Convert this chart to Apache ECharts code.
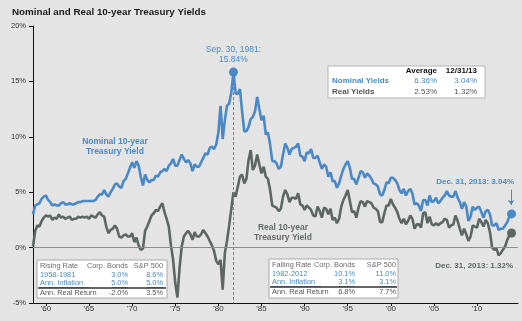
<!DOCTYPE html>
<html>
<head>
<meta charset="utf-8">
<script src="https://cdn.jsdelivr.net/npm/echarts@6/dist/echarts.min.js"></script>
<style>
  html, body { margin: 0; padding: 0; background: #e4e4e4; }
  #chart { width: 522px; height: 321px; }
</style>
</head>
<body>
<div id="chart"></div>
<script>
// Quarter-end observations, first one at end of June 1958, one every quarter after that.
const firstQuarter = 1958.5;
const quarterStep = 0.25;

// Nominal 10-year Treasury yield, % (one row per year)
const nominalYield = [
  3.0, 3.8, 3.9,
  4.0, 4.4, 4.6, 4.7,
  4.3, 4.1, 3.8, 3.9,
  3.8, 3.8, 4.0, 4.1,
  3.9, 3.9, 4.0, 3.9,
  3.9, 4.0, 4.1, 4.1,
  4.2, 4.2, 4.2, 4.2,
  4.2, 4.2, 4.3, 4.6,
  4.8, 4.8, 5.2, 4.8,
  4.6, 5.0, 5.3, 5.7,
  5.8, 5.5, 5.4, 6.0,
  6.2, 6.7, 7.2, 7.7,
  7.2, 7.8, 7.4, 6.4,
  5.6, 6.6, 6.1, 5.9,
  6.1, 6.1, 6.5, 6.4,
  6.8, 6.9, 7.1, 6.9,
  7.4, 7.6, 8.0, 7.4,
  7.4, 7.9, 8.4, 8.0,
  7.7, 7.9, 7.6, 6.9,
  7.5, 7.3, 7.3, 7.7,
  8.1, 8.5, 8.4, 9.0,
  9.1, 8.9, 9.3, 10.4,
  12.8, 9.8, 11.5, 12.8,
  13.0, 14.0, 15.84, 13.9,
  13.9, 14.3, 12.3, 10.5,
  10.5, 10.9, 11.6, 11.8,
  12.3, 13.6, 12.5, 11.5,
  11.9, 10.2, 10.4, 9.3,
  7.8, 7.8, 7.6, 7.1,
  7.3, 8.4, 9.4, 9.0,
  8.4, 8.9, 9.0, 9.1,
  9.4, 8.3, 8.2, 7.8,
  8.6, 8.5, 8.9, 8.1,
  8.1, 8.3, 7.7, 7.1,
  7.5, 7.3, 6.4, 6.8,
  6.0, 6.0, 5.4, 5.8,
  6.5, 7.1, 7.5, 7.8,
  7.2, 6.2, 6.2, 5.7,
  6.3, 6.9, 6.8, 6.3,
  6.7, 6.5, 6.2, 5.8,
  5.7, 5.5, 4.8, 4.7,
  5.2, 5.9, 5.8, 6.3,
  6.3, 6.1, 5.8, 5.2,
  4.9, 5.3, 4.7, 5.1,
  5.3, 4.9, 3.9, 4.0,
  3.8, 3.3, 4.3, 4.3,
  3.8, 4.7, 4.1, 4.2,
  4.5, 4.0, 4.2, 4.5,
  4.7, 5.1, 4.7, 4.6,
  4.6, 5.1, 4.5, 4.1,
  3.5, 4.1, 3.7, 2.4,
  2.8, 3.7, 3.4, 3.6,
  3.7, 3.2, 2.7, 3.3,
  3.4, 3.0, 2.0, 2.0,
  2.2, 1.6, 1.7, 1.7,
  2.0, 2.3, 2.8, 3.04
];

// Real 10-year Treasury yield, % (one row per year)
const realYield = [
  0.1, 1.5, 2.0,
  1.9, 2.4, 2.7, 2.9,
  2.8, 2.9, 2.5, 2.7,
  2.6, 3.0, 2.7, 2.8,
  2.6, 2.7, 2.8, 2.5,
  2.6, 2.6, 2.8, 2.7,
  2.8, 2.7, 2.8, 2.6,
  2.9, 2.8, 2.7, 3.0,
  3.2, 2.9, 2.8, 1.9,
  1.3, 1.6, 1.7, 2.0,
  1.7, 1.0, 0.9, 1.1,
  1.2, 1.0, 1.0, 1.3,
  0.5, 0.9, 0.2, -0.2,
  -0.1, 1.5, 1.9, 2.4,
  2.9, 3.1, 3.4, 3.3,
  3.7, 4.0, 3.2, 2.6,
  1.9, 0.2, -1.1, -3.2,
  -4.5, -1.8, 0.1, 1.0,
  1.3, 1.5, 1.2, 0.7,
  1.4, 1.0, 1.0, 1.2,
  1.6, 1.3, 1.0, 0.6,
  0.2, -0.3, -1.2, -1.5,
  -1.1, -3.8, -0.5, 0.6,
  2.0, 3.5, 5.0, 4.6,
  5.5, 6.4, 6.6, 5.8,
  6.2, 7.9, 8.8, 7.0,
  7.4, 8.4, 7.5, 6.7,
  7.3, 6.4, 6.2, 5.2,
  3.8, 3.7, 3.6, 3.3,
  3.5, 4.6, 5.2, 4.8,
  4.1, 4.5, 4.5, 4.4,
  4.9, 3.9, 3.8, 3.4,
  3.8, 3.6, 3.4, 2.9,
  2.8, 3.7, 3.3, 2.7,
  3.6, 3.5, 3.0, 3.5,
  2.5, 2.7, 2.2, 2.6,
  3.7, 4.3, 4.7, 5.2,
  4.2, 3.2, 3.3, 2.7,
  3.6, 4.2, 4.1, 3.7,
  4.2, 4.1, 4.0, 3.6,
  3.5, 3.3, 2.3, 2.3,
  3.1, 3.8, 3.8, 4.4,
  3.9, 3.6, 3.2, 2.6,
  2.2, 2.6, 2.1, 2.4,
  2.9, 2.6, 1.7, 2.1,
  2.1, 1.8, 3.1, 3.2,
  2.2, 2.8, 2.1, 2.0,
  2.2, 2.0, 2.2, 2.3,
  2.6, 2.5, 1.8, 2.0,
  2.1, 2.9, 2.4, 1.7,
  1.1, 1.7, 1.2, 0.6,
  1.0, 2.0, 1.9, 1.8,
  2.6, 2.3, 1.9, 2.5,
  2.2, 1.4, 0.0, -0.2,
  -0.1, -0.7, -0.5, -0.2,
  0.1, 0.7, 1.1, 1.32
];

// Axis ticks and labels
const yearTicks = [1960, 1965, 1970, 1975, 1980, 1985, 1990, 1995, 2000, 2005, 2010];
const yTicks = [-5, 0, 5, 10, 15, 20];

// Peak of the nominal yield
const peakDate = 1981.75;
const peakLabel = 'Sep. 30, 1981:';
const lastLabel = 'Dec. 31, 2013:';

// Series captions
const nominalCaption = ['Nominal 10-year', 'Treasury Yield'];
const realCaption = ['Real 10-year', 'Treasury Yield'];

// Text tables
const summaryHeader = ['Average', '12/31/13'];
const summaryRows = [
  ['Nominal Yields', '6.36%', '3.04%'],
  ['Real Yields', '2.53%', '1.32%']
];
const risingTable = [
  ['Rising Rate', 'Corp. Bonds', 'S&P 500'],
  ['1958-1981', '3.0%', '8.6%'],
  ['Ann. Inflation', '5.0%', '5.0%'],
  ['Ann. Real Return', '-2.0%', '3.5%']
];
const fallingTable = [
  ['Falling Rate', 'Corp. Bonds', 'S&P 500'],
  ['1982-2012', '10.1%', '11.0%'],
  ['Ann. Inflation', '3.1%', '3.1%'],
  ['Ann. Real Return', '6.8%', '7.7%']
];

const BLUE = '#4a89c6';
const GREY = '#5c6763';
const FONT = '"Liberation Sans", Arial, sans-serif';

const xOf = i => firstQuarter + i * quarterStep;
const nominalData = nominalYield.map((v, i) => [xOf(i), v]);
const realData = realYield.map((v, i) => [xOf(i), v]);
const lastX = xOf(nominalYield.length - 1);
const lastNominal = nominalYield[nominalYield.length - 1];
const lastReal = realYield[realYield.length - 1];
const peakValue = nominalYield[Math.round((peakDate - firstQuarter) / quarterStep)];

function fmtPct(v) { return v.toFixed(2) + '%'; }

function tableGraphic(x, y, w, h, col2Right, col3Right, rows) {
  const rowY = [6, 15, 23, 33];
  const colors = ['#6a6a6a', BLUE, BLUE, '#555'];
  const children = [{
    type: 'rect', shape: { x: 0, y: 0, width: w, height: h },
    style: { fill: '#ffffff', stroke: '#a9a9a9', lineWidth: 1 }
  }];
  rows.forEach((r, ri) => {
    const cols = [[3, 'left'], [col2Right, 'right'], [col3Right, 'right']];
    r.forEach((t, ci) => {
      children.push({
        type: 'text',
        style: {
          text: t, x: cols[ci][0], y: rowY[ri], fill: colors[ri],
          font: '7.4px ' + FONT, align: cols[ci][1], verticalAlign: 'middle'
        }
      });
    });
  });
  // underline of the inflation row
  const ux = [[3, 52], [col2Right - 16, col2Right], [col3Right - 16, col3Right]];
  ux.forEach(u => children.push({
    type: 'line', shape: { x1: u[0], y1: rowY[2] + 4.5, x2: u[1], y2: rowY[2] + 4.5 },
    style: { stroke: BLUE, lineWidth: 0.8 }
  }));
  children.push({
    type: 'line', shape: { x1: 1, y1: 28, x2: w - 1, y2: 28 },
    style: { stroke: '#333', lineWidth: 1.3 }
  });
  return { type: 'group', x: x, y: y, children: children, z: 100 };
}

function summaryGraphic(x, y) {
  const children = [{
    type: 'rect', shape: { x: 0, y: 0, width: 157, height: 32 },
    style: { fill: '#ffffff', stroke: '#b5b5b5', lineWidth: 1 }
  }];
  children.push({ type: 'text', style: { text: summaryHeader[0], x: 109, y: 5, fill: '#111', font: 'bold 8px ' + FONT, align: 'right', verticalAlign: 'middle' } });
  children.push({ type: 'text', style: { text: summaryHeader[1], x: 149, y: 5, fill: '#111', font: 'bold 8px ' + FONT, align: 'right', verticalAlign: 'middle' } });
  const rowColors = [BLUE, '#555'];
  summaryRows.forEach((r, ri) => {
    const yy = 15 + ri * 10.5;
    children.push({ type: 'text', style: { text: r[0], x: 4, y: yy, fill: rowColors[ri], font: 'bold 8px ' + FONT, align: 'left', verticalAlign: 'middle' } });
    children.push({ type: 'text', style: { text: r[1], x: 109, y: yy, fill: rowColors[ri], font: '8px ' + FONT, align: 'right', verticalAlign: 'middle' } });
    children.push({ type: 'text', style: { text: r[2], x: 149, y: yy, fill: rowColors[ri], font: '8px ' + FONT, align: 'right', verticalAlign: 'middle' } });
  });
  return { type: 'group', x: x, y: y, children: children, z: 100 };
}

function captionGraphic(cx, cy, lines, color) {
  return {
    type: 'group', x: cx, y: cy, z: 50,
    children: lines.map((t, i) => ({
      type: 'text',
      style: { text: t, x: 0, y: i * 10, fill: color, font: 'bold 8.5px ' + FONT, align: 'center', verticalAlign: 'middle' }
    }))
  };
}

const chart = echarts.init(document.getElementById('chart'), null, { renderer: 'canvas' });

chart.setOption({
  animation: false,
  backgroundColor: '#e4e4e4',
  title: {
    text: 'Nominal and Real 10-year Treasury Yields',
    left: 12, top: 7, padding: 0,
    textStyle: { fontFamily: FONT, fontSize: 9.8, fontWeight: 'bold', color: '#1b1b1b' }
  },
  grid: { left: 33, right: 4, top: 26, bottom: 18, containLabel: false },
  xAxis: {
    type: 'value', min: 1958.5, max: 2014.75,
    axisLine: { show: true, onZero: false, lineStyle: { color: '#111', width: 1 } },
    axisTick: { show: true, customValues: yearTicks, length: 3, lineStyle: { color: '#111' } },
    axisLabel: {
      customValues: yearTicks, fontFamily: FONT, fontSize: 8, color: '#333', margin: 2,
      formatter: v => "'" + String(v).slice(2)
    },
    splitLine: { show: false }
  },
  yAxis: {
    type: 'value', min: yTicks[0], max: yTicks[yTicks.length - 1], interval: 5,
    axisLine: { show: true, lineStyle: { color: '#111', width: 1 } },
    axisTick: { show: true, length: 4, lineStyle: { color: '#111' } },
    axisLabel: { fontFamily: FONT, fontSize: 7.5, color: '#333', margin: 7, formatter: '{value}%' },
    splitLine: { show: false }
  },
  series: [
    {
      name: 'Real 10-year Treasury Yield', type: 'line', data: realData,
      showSymbol: false, lineStyle: { color: GREY, width: 2.6 }, itemStyle: { color: GREY }, z: 3,
      markLine: {
        silent: true, symbol: 'none', label: { show: false },
        lineStyle: { color: '#8c8c8c', width: 1, type: 'solid' },
        data: [{ yAxis: 0 }]
      },
      markPoint: {
        silent: true, symbol: 'circle', symbolSize: 9,
        itemStyle: { color: GREY },
        label: { show: false },
        data: [{ coord: [lastX, lastReal] }]
      }
    },
    {
      name: 'Nominal 10-year Treasury Yield', type: 'line', data: nominalData,
      showSymbol: false, lineStyle: { color: BLUE, width: 2.6 }, itemStyle: { color: BLUE }, z: 4,
      markLine: {
        silent: true, label: { show: false },
        data: [
          [{ coord: [peakDate, peakValue], symbol: 'none', lineStyle: { color: BLUE, width: 1, type: [3, 2] } },
           { coord: [peakDate, yTicks[0]], symbol: 'none' }],
          [{ coord: [lastX - 0.05, lastNominal + 2.2], symbol: 'none', lineStyle: { color: BLUE, width: 1, type: 'solid' } },
           { coord: [lastX - 0.05, lastNominal + 0.8], symbol: 'arrow', symbolSize: 5 }]
        ]
      },
      markPoint: {
        silent: true, symbol: 'circle', symbolSize: 9,
        itemStyle: { color: BLUE },
        data: [
          {
            coord: [peakDate, peakValue],
            label: {
              show: true, position: 'top', distance: 3,
              formatter: peakLabel + '\n' + fmtPct(peakValue),
              fontFamily: FONT, fontSize: 8.5, color: BLUE, lineHeight: 10
            }
          },
          { coord: [lastX, lastNominal], label: { show: false } }
        ]
      }
    }
  ],
  graphic: [
    captionGraphic(115, 142, nominalCaption, BLUE),
    captionGraphic(283, 228, realCaption, '#646c69'),
    {
      type: 'text', right: 8, top: 178, z: 50,
      style: { text: lastLabel + ' ' + fmtPct(lastNominal), fill: BLUE, font: 'bold 8px ' + FONT }
    },
    {
      type: 'text', right: 9, top: 262, z: 50,
      style: { text: lastLabel + ' ' + fmtPct(lastReal), fill: '#5f6663', font: 'bold 8px ' + FONT }
    },
    summaryGraphic(328, 66),
    tableGraphic(37, 260, 130, 38, 91, 126, risingTable),
    tableGraphic(269, 259, 129, 39, 86, 127, fallingTable)
  ]
});
</script>
</body>
</html>
